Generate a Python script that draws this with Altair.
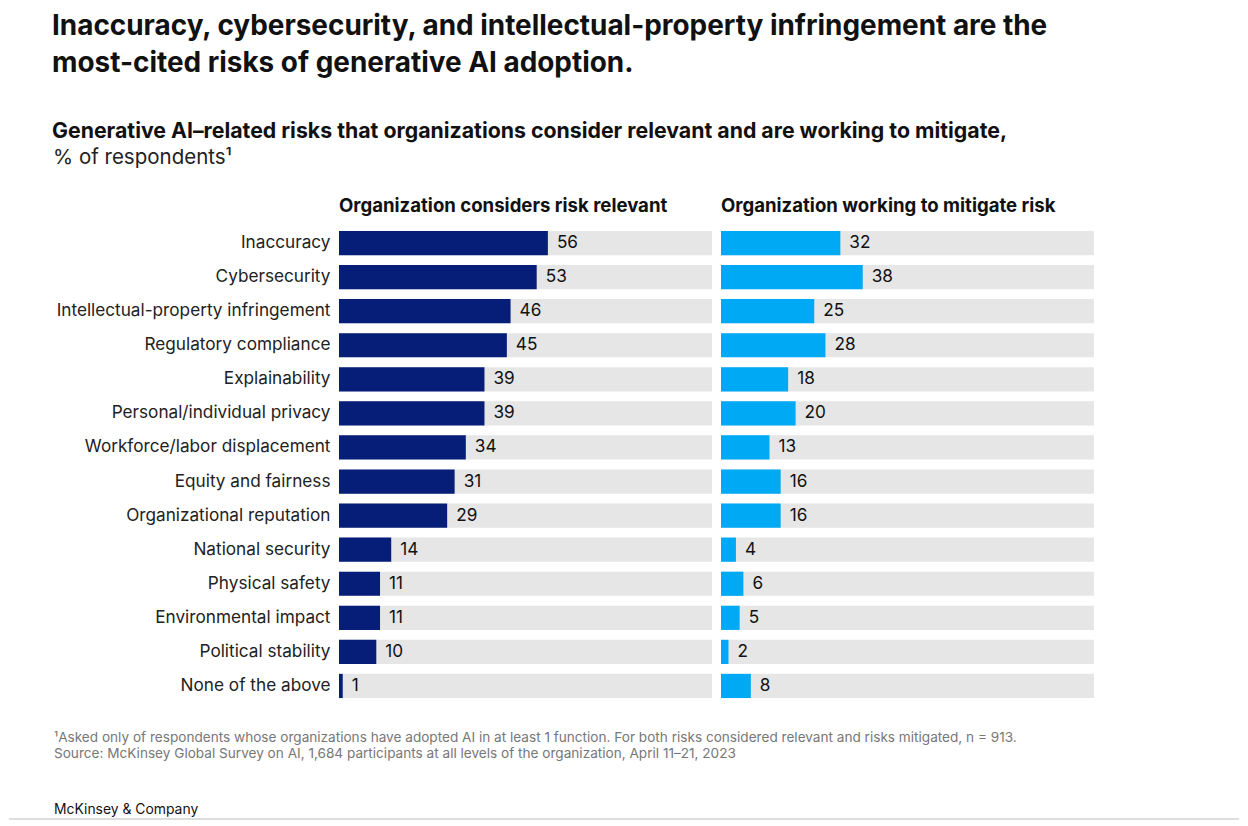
import altair as alt
import pandas as pd

categories = [
    "Inaccuracy", "Cybersecurity", "Intellectual-property infringement",
    "Regulatory compliance", "Explainability", "Personal/individual privacy",
    "Workforce/labor displacement", "Equity and fairness",
    "Organizational reputation", "National security", "Physical safety",
    "Environmental impact", "Political stability", "None of the above",
]
relevant = [56, 53, 46, 45, 39, 39, 34, 31, 29, 14, 11, 11, 10, 1]
mitigate = [32, 38, 25, 28, 18, 20, 13, 16, 16, 4, 6, 5, 2, 8]
full = [100] * len(categories)

title_lines = [
    "Inaccuracy, cybersecurity, and intellectual-property infringement are the",
    "most-cited risks of generative AI adoption.",
]
subtitle_bold = "Generative AI\u2013related risks that organizations consider relevant and are working to mitigate,"
subtitle_unit = ["% of respondents\u00b9"]
panel_titles = ["Organization considers risk relevant", "Organization working to mitigate risk"]
footnotes = [
    "\u00b9Asked only of respondents whose organizations have adopted AI in at least 1 function. For both risks considered relevant and risks mitigated, n = 913.",
    " Source: McKinsey Global Survey on AI, 1,684 participants at all levels of the organization, April 11\u201321, 2023",
]
brand = ["McKinsey & Company"]

FONT = "Inter"
NAVY = "#061E78"
BLUE = "#00A9F4"
GRAY = "#E6E6E6"
W = 373
H = 477

df = pd.DataFrame({"category": categories, "relevant": relevant,
                   "mitigate": mitigate, "full": full})

yscale = alt.Scale(paddingInner=0.29, paddingOuter=0.145)
xscale = alt.Scale(domain=[0, 100])


def text_layer(values, size, color, x, y, weight="normal"):
    return alt.Chart(pd.DataFrame({"t": values})).mark_text(
        align="left", baseline="middle", fontSize=size, font=FONT,
        color=color, fontWeight=weight,
    ).encode(text="t:N", x=alt.value(x), y=alt.value(y))


def panel(field, color, show_axis, title):
    if show_axis:
        yaxis = alt.Axis(title=None, ticks=False, domain=False, labelPadding=9,
                         labelFontSize=17.2, labelColor="#222222", labelFont=FONT,
                         labelLimit=400)
    else:
        yaxis = None
    base = alt.Chart(df).encode(
        y=alt.Y("category:N", sort=categories, scale=yscale, axis=yaxis)
    )
    bg = base.mark_bar(color=GRAY).encode(
        x=alt.X("full:Q", scale=xscale, axis=None))
    bar = base.mark_bar(color=color).encode(
        x=alt.X(f"{field}:Q", scale=xscale, axis=None))
    txt = base.mark_text(align="left", baseline="middle", dx=9, fontSize=17.2,
                         font=FONT, color="#111111").encode(
        x=alt.X(f"{field}:Q", scale=xscale, axis=None), text=f"{field}:Q")
    header = text_layer([title], 18.6, "#111111", 0, -20, "bold")
    return [bg, bar, txt, header]


left_layers = panel("relevant", NAVY, True, panel_titles[0])
right_layers = panel("mitigate", BLUE, False, panel_titles[1])

unit_text = text_layer(subtitle_unit, 20.5, "#222222", -286, -68)
foot1 = text_layer([footnotes[0]], 13.6, "#777777", -285, 512)
foot2 = text_layer([footnotes[1]], 13.6, "#777777", -285, 528)
brand_text = text_layer(brand, 13.9, "#111111", -285, 584)
bottom_rule = alt.Chart(pd.DataFrame({"t": [0]})).mark_rule(
    color="#DDDDDD", strokeWidth=2
).encode(x=alt.value(-330), x2=alt.value(900), y=alt.value(593))

left = alt.layer(*left_layers, unit_text, foot1, foot2, brand_text, bottom_rule).properties(
    width=W, height=H)
right = alt.layer(*right_layers).properties(width=W, height=H)

chart = alt.hconcat(left, right, spacing=9, bounds="flush").properties(
    title=alt.TitleParams(
        title_lines, subtitle=subtitle_bold, anchor="start", dx=44,
        fontSize=27.9, fontWeight="bold", font=FONT, color="#111111", lineHeight=37,
        subtitleFontSize=21.3, subtitleFontWeight="bold", subtitleFont=FONT,
        subtitleColor="#111111", subtitlePadding=43, offset=6),
    padding={"left": 0, "right": 0, "top": 4, "bottom": 0},
).configure_view(stroke=None)

chart.save("out.html", embed_options={"renderer": "svg", "actions": False})
